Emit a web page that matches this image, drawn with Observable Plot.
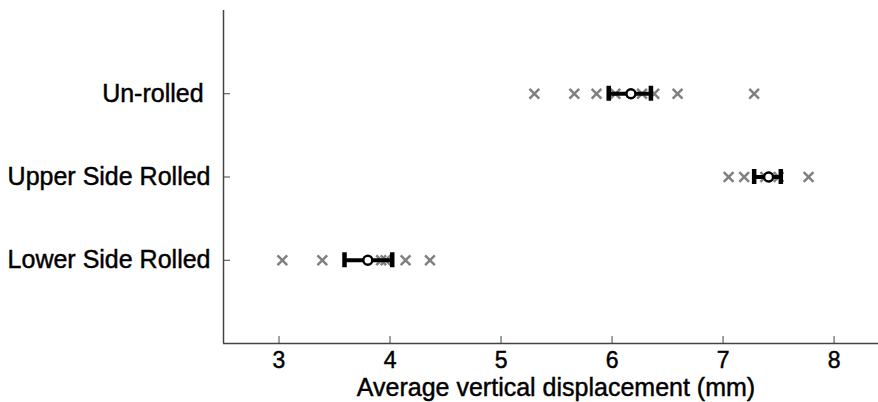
<!DOCTYPE html>
<html>
<head>
<meta charset="utf-8">
<script src="https://cdn.jsdelivr.net/npm/d3@7"></script>
<script src="https://cdn.jsdelivr.net/npm/@observablehq/plot@0.6"></script>
<style>
  html, body { margin: 0; padding: 0; background: #fff; }
  #chart svg { display: block; }
  #chart svg text { white-space: pre; stroke: #000; stroke-width: 0.45px; }
</style>
</head>
<body>
<div id="chart"></div>
<script>
// ---- data ----
const categories = ["Un-rolled ", "Upper Side Rolled", "Lower Side Rolled"];
const unrolled    = [5.30, 5.66, 5.86, 6.03, 6.27, 6.38, 6.59, 7.28];
const upperRolled = [7.05, 7.19, 7.38, 7.50, 7.77];
const lowerRolled = [3.03, 3.39, 3.92, 3.96, 4.14, 4.36];
const means   = [6.17, 7.41, 3.80];
const errLow  = [5.97, 7.28, 3.59];
const errHigh = [6.35, 7.52, 4.02];
const xTicks = [3, 4, 5, 6, 7, 8];
const xDomain = [2.5, 8.4];
const yDomain = [0, 4];
const xLabel = "Average vertical displacement (mm)";

// ---- tables built from the arrays ----
const series = [unrolled, upperRolled, lowerRolled];
const points = series.flatMap((vals, i) => vals.map(v => ({pos: i + 1, value: v})));
const summary = categories.map((c, i) => ({pos: i + 1, mean: means[i], lo: errLow[i], hi: errHigh[i]}));
const caps = summary.flatMap(d => [{pos: d.pos, x: d.lo}, {pos: d.pos, x: d.hi}]);
const capHalf = 0.09;

const font = "'Liberation Sans', Arial, sans-serif";
const axisColor = "#444";

const chart = Plot.plot({
  width: 878,
  height: 402,
  marginLeft: 223,
  marginRight: 0,
  marginTop: 10,
  marginBottom: 59,
  style: {fontFamily: font, fontSize: "24px", color: "#000", background: "#fff"},
  x: {domain: xDomain},
  y: {domain: yDomain, reverse: true},
  marks: [
    // frame lines (left and bottom)
    Plot.ruleX([xDomain[0]], {stroke: axisColor, strokeWidth: 1.5}),
    Plot.ruleY([yDomain[1]], {stroke: axisColor, strokeWidth: 1.5}),
    // inward tick marks (no text)
    Plot.axisX({ticks: xTicks, tickSize: 7, dy: -7, fill: "none", stroke: axisColor, label: null}),
    Plot.axisY({ticks: [1, 2, 3], tickSize: 7, dx: 7, fill: "none", stroke: axisColor, label: null}),
    // tick labels
    Plot.axisX({ticks: xTicks, tickSize: 0, tickPadding: 8, fontSize: 23, tickFormat: d => String(d), label: null}),
    Plot.axisY({ticks: [1, 2, 3], tickSize: 0, tickPadding: 13, fontSize: 25, tickFormat: d => categories[d - 1], label: null}),
    // individual samples
    Plot.dot(points, {x: "value", y: "pos", symbol: "times", r: 4.5, stroke: "#808080", strokeWidth: 2.5}),
    // error bars
    Plot.ruleY(summary, {y: "pos", x1: "lo", x2: "hi", stroke: "#000", strokeWidth: 4}),
    Plot.ruleX(caps, {x: "x", y1: d => d.pos - capHalf, y2: d => d.pos + capHalf, stroke: "#000", strokeWidth: 4.5}),
    Plot.dot(summary, {x: "mean", y: "pos", r: 4.5, fill: "#fff", stroke: "#000", strokeWidth: 2.5}),
    // x axis title
    Plot.text([xLabel], {text: d => d, frameAnchor: "bottom", lineAnchor: "middle", dy: 44, dx: 5, fontSize: 25, fill: "#000"})
  ]
});
document.getElementById("chart").appendChild(chart);
</script>
</body>
</html>
